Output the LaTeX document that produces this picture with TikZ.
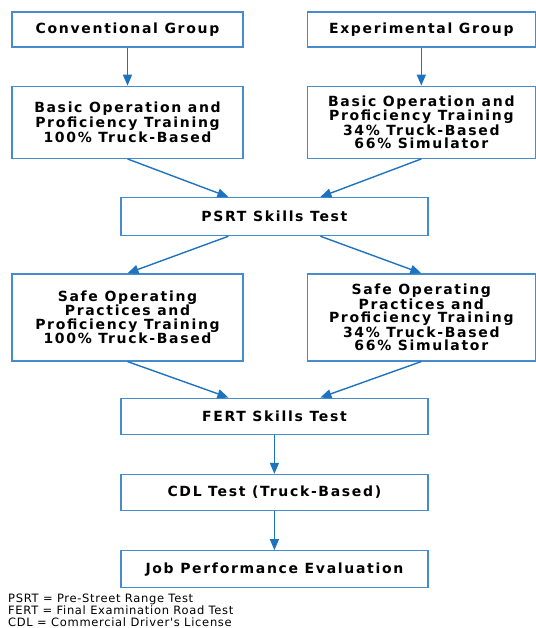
\documentclass[tikz,border=0pt]{standalone}
\usepackage{fontspec}
\setmainfont{DejaVu Sans}
\newfontfamily\boxfont[LetterSpace=12]{DejaVu Sans}
\newfontfamily\notefont[LetterSpace=6]{DejaVu Sans}
\usepackage{tikz}
\usetikzlibrary{arrows.meta,calc,positioning}
\definecolor{flowblue}{RGB}{30,115,190}
\definecolor{edgeblue}{RGB}{70,140,205}

\begin{document}
\begin{tikzpicture}[
            x=1pt, y=1pt,
            node distance = 38pt and 63pt,
            stagebox/.style = {draw=edgeblue,
                line width=1.3pt,
                fill=white,
                font=\boxfont\bfseries\fontsize{14}{13.4}\selectfont,
                align=center,
                inner sep=2pt,
                minimum width=231pt,
            },
            rightbox/.style = {stagebox, minimum width=228pt},
            testbox/.style = {stagebox, minimum width=307pt},
            flow/.style = {draw=flowblue, line width=1.4pt,
                -{Triangle[length=11pt,width=9pt]}},
            notes/.style = {font=\notefont\fontsize{11.5}{12}\selectfont, align=left,
                inner sep=0pt},
        ]
            \useasboundingbox (0,0) rectangle (535,-628);
            % groups
            \node[stagebox, minimum height=35pt] (conv) at (127.5,-29.5) {Conventional Group};
            \node[rightbox, minimum height=35pt, right=of conv] (expt) {Experimental Group};
            % first training block
            \node[stagebox, minimum height=72pt, below=of conv] (basicC) {Basic Operation and\\Proficiency Training\\100\% Truck-Based};
            \node[rightbox, minimum height=72pt, below=of expt] (basicE) {Basic Operation and\\Proficiency Training\\34\% Truck-Based\\66\% Simulator};
            \coordinate (psrttop) at ($(basicC.south)!.5!(basicE.south)$);
            \node[testbox, minimum height=38pt, below=of psrttop] (psrt) {PSRT Skills Test};
            % second training block
            \coordinate (safeCtop) at (psrt.south -| conv);
            \coordinate (safeEtop) at (psrt.south -| expt);
            \node[stagebox, minimum height=87pt, below=37pt of safeCtop] (safeC) {Safe Operating\\Practices and\\Proficiency Training\\100\% Truck-Based};
            \node[rightbox, minimum height=87pt, below=37pt of safeEtop] (safeE) {Safe Operating\\Practices and\\Proficiency Training\\34\% Truck-Based\\66\% Simulator};
            \coordinate (ferttop) at ($(safeC.south)!.5!(safeE.south)$);
            \node[testbox, minimum height=36pt, below=36pt of ferttop] (fert) {FERT Skills Test};
            \node[testbox, minimum height=36pt, below=39pt of fert] (cdl) {CDL Test (Truck-Based)};
            \node[testbox, minimum height=37pt, below=39pt of cdl] (job) {Job Performance Evaluation};
            % connectors
            \draw[flow] (conv) -- (basicC);
            \draw[flow] (expt) -- (basicE);
            \draw[flow] (basicC.south) -- ([xshift=-46pt]psrt.north);
            \draw[flow] (basicE.south) -- ([xshift=46pt]psrt.north);
            \draw[flow] ([xshift=-46pt]psrt.south) -- (safeC.north);
            \draw[flow] ([xshift=46pt]psrt.south) -- (safeE.north);
            \draw[flow] (safeC.south) -- ([xshift=-46pt]fert.north);
            \draw[flow] (safeE.south) -- ([xshift=46pt]fert.north);
            \draw[flow] (fert) -- (cdl);
            \draw[flow] (cdl) -- (job);
            % abbreviations
            \node[notes, anchor=north west] (abbr) at (8,-594) {PSRT = Pre-Street Range Test\\FERT = Final Examination Road Test\\CDL = Commercial Driver's License};
        \end{tikzpicture}
\end{document}
